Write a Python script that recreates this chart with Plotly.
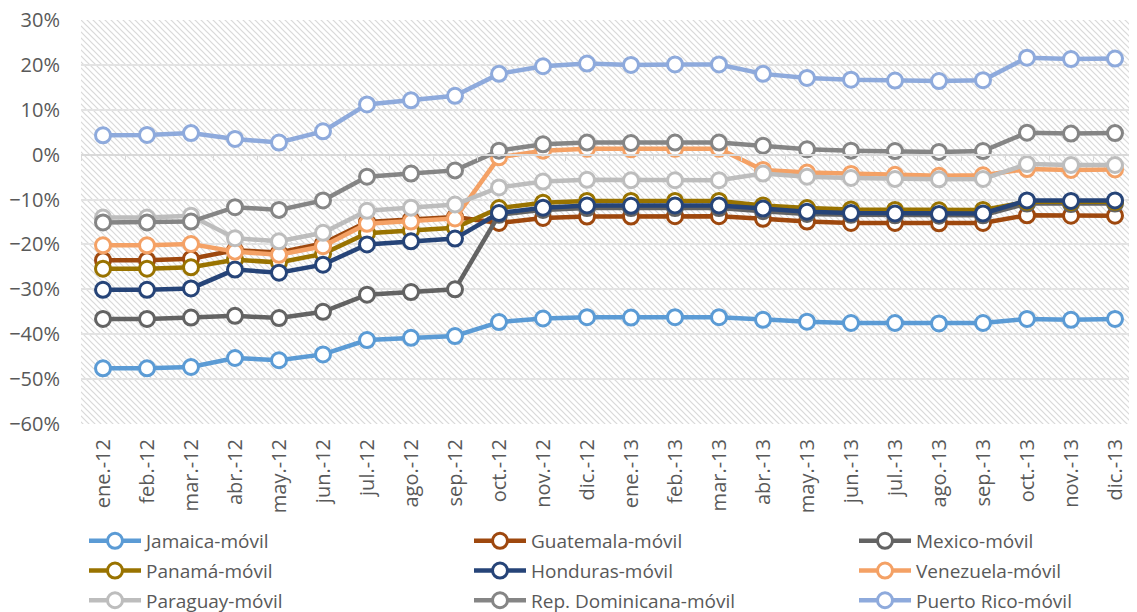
import base64
import plotly.graph_objects as go

# datos (variación %, móvil)
meses = ['ene.-12', 'feb.-12', 'mar.-12', 'abr.-12', 'may.-12', 'jun.-12',
         'jul.-12', 'ago.-12', 'sep.-12', 'oct.-12', 'nov.-12', 'dic.-12',
         'ene.-13', 'feb.-13', 'mar.-13', 'abr.-13', 'may.-13', 'jun.-13',
         'jul.-13', 'ago.-13', 'sep.-13', 'oct.-13', 'nov.-13', 'dic.-13']

jamaica = [-47.6, -47.6, -47.3, -45.3, -45.8, -44.5, -41.3, -40.8, -40.4, -37.3, -36.5, -36.2,
           -36.3, -36.2, -36.2, -36.8, -37.2, -37.5, -37.5, -37.6, -37.5, -36.6, -36.8, -36.6]
guatemala = [-23.5, -23.5, -23.2, -21.3, -21.8, -19.8, -15.0, -14.4, -13.9, -15.2, -14.1, -13.8,
             -13.8, -13.7, -13.7, -14.3, -14.9, -15.2, -15.2, -15.3, -15.2, -13.5, -13.6, -13.6]
mexico = [-36.6, -36.6, -36.3, -35.9, -36.4, -35.0, -31.2, -30.6, -30.0, -13.4, -12.3, -11.9,
          -11.9, -11.9, -11.9, -12.6, -13.2, -13.4, -13.5, -13.6, -13.5, -10.9, -11.0, -10.9]
panama = [-25.4, -25.4, -25.1, -23.4, -24.0, -22.1, -17.5, -16.9, -16.3, -11.9, -10.7, -10.3,
          -10.3, -10.3, -10.3, -11.3, -11.9, -12.2, -12.3, -12.4, -12.3, -10.5, -10.6, -10.5]
honduras = [-30.1, -30.1, -29.8, -25.6, -26.3, -24.5, -20.0, -19.3, -18.7, -13.0, -11.8, -11.3,
            -11.4, -11.3, -11.3, -12.0, -12.7, -13.0, -13.1, -13.2, -13.1, -10.2, -10.3, -10.2]
venezuela = [-20.2, -20.2, -19.9, -21.6, -22.3, -20.4, -15.4, -14.9, -14.2, -0.6, 0.9, 1.3,
             1.2, 1.3, 1.3, -3.4, -4.0, -4.3, -4.5, -4.7, -4.6, -3.2, -3.4, -3.3]
paraguay = [-14.0, -14.0, -13.6, -18.6, -19.3, -17.4, -12.5, -11.8, -11.1, -7.3, -6.0, -5.6,
            -5.7, -5.7, -5.7, -4.2, -4.9, -5.2, -5.4, -5.5, -5.4, -2.1, -2.3, -2.3]
rep_dom = [-15.1, -15.1, -14.9, -11.7, -12.3, -10.2, -4.9, -4.2, -3.5, 0.9, 2.3, 2.7,
           2.6, 2.7, 2.7, 2.0, 1.2, 0.9, 0.8, 0.6, 0.8, 4.9, 4.7, 4.8]
puerto_rico = [4.3, 4.4, 4.8, 3.5, 2.7, 5.2, 11.2, 12.1, 13.1, 18.0, 19.7, 20.3,
               20.0, 20.1, 20.1, 18.0, 17.1, 16.7, 16.5, 16.4, 16.6, 21.6, 21.3, 21.4]

series = [
    ('Jamaica-móvil', jamaica, '#5B9BD5', 'legend'),
    ('Guatemala-móvil', guatemala, '#9E480E', 'legend2'),
    ('Mexico-móvil', mexico, '#636363', 'legend3'),
    ('Panamá-móvil', panama, '#997300', 'legend'),
    ('Honduras-móvil', honduras, '#264478', 'legend2'),
    ('Venezuela-móvil', venezuela, '#F4A165', 'legend3'),
    ('Paraguay-móvil', paraguay, '#BDBDBD', 'legend'),
    ('Rep. Dominicana-móvil', rep_dom, '#858585', 'legend2'),
    ('Puerto Rico-móvil', puerto_rico, '#8EAADC', 'legend3'),
]

gris = '#595959'
fuente = 'Open Sans'

# márgenes (la página añade 8 px de margen al body)
ml, mr, mt, mb = 73, 8, 12, 196
ancho, alto = 1137, 612
W, H = ancho - ml - mr, alto - mt - mb
y0 = alto - mb  # borde inferior del área de trazado

# fondo rayado (trama diagonal como en Excel)
svg = (f'<svg xmlns="http://www.w3.org/2000/svg" width="{W}" height="{H}" viewBox="0 0 {W} {H}">'
       '<defs><pattern id="p" width="6" height="6" patternUnits="userSpaceOnUse">'
       '<rect width="6" height="6" fill="white"/>'
       '<path d="M-1,-1 L7,7 M-1,5 L1,7 M5,-1 L7,1" stroke="#D9D9D9" stroke-width="1.2"/>'
       '</pattern></defs>'
       f'<rect width="{W}" height="{H}" fill="url(#p)"/></svg>')
fondo = 'data:image/svg+xml;base64,' + base64.b64encode(svg.encode()).decode()

fig = go.Figure()
for nombre, valores, color, ley in series:
    fig.add_trace(go.Scatter(
        x=meses, y=valores, name=nombre, mode='lines+markers',
        line=dict(color=color, width=4.5),
        marker=dict(symbol='circle', size=15, color='white',
                    line=dict(color=color, width=3)),
        legend=ley, legendgroup=nombre,
    ))

ley_comun = dict(orientation='v', xanchor='left', yanchor='top', y=(y0 - 514) / H,
                 bgcolor='rgba(0,0,0,0)',
                 font=dict(family=fuente, size=19, color=gris),
                 tracegroupgap=2, itemwidth=52)

fig.update_layout(
    width=ancho, height=alto,
    margin=dict(l=ml, r=mr, t=mt, b=mb, autoexpand=False),
    paper_bgcolor='white', plot_bgcolor='rgba(0,0,0,0)',
    font=dict(family=fuente, color=gris),
    images=[dict(source=fondo, xref='paper', yref='paper', x=0, y=1,
                 sizex=1, sizey=1, sizing='stretch', layer='below')],
    xaxis=dict(type='category', categoryorder='array', categoryarray=meses,
               range=[-0.5, 23.5], tickangle=-90, showgrid=False,
               tickfont=dict(size=20, color=gris), ticks='', ticklabelstandoff=10,
               showline=False, zeroline=False, ticklabeloverflow='allow'),
    xaxis2=dict(type='category', categoryorder='array', categoryarray=meses,
                range=[-0.5, 23.5], overlaying='x', anchor='free', position=60 / 90,
                showticklabels=False, ticks='outside', ticklen=5, tickcolor='#D9D9D9',
                tickson='boundaries', showline=True, linecolor='#D9D9D9', linewidth=2,
                showgrid=False, zeroline=False),
    yaxis=dict(range=[-60, 30], dtick=10, ticksuffix='%', showgrid=True,
               gridcolor='#E3E3E3', gridwidth=1.5, zeroline=False,
               tickfont=dict(size=20, color=gris), ticklabelstandoff=20,
               ticklabeloverflow='allow'),
    legend=dict(ley_comun, x=(76 - ml) / W),
    legend2=dict(ley_comun, x=(461 - ml) / W),
    legend3=dict(ley_comun, x=(846 - ml) / W),
)

# traza invisible para que se dibuje el eje horizontal en 0%
fig.add_trace(go.Scatter(x=meses, y=[None] * len(meses), xaxis='x2',
                         showlegend=False, hoverinfo='skip'))

fig.write_html("out.html")
